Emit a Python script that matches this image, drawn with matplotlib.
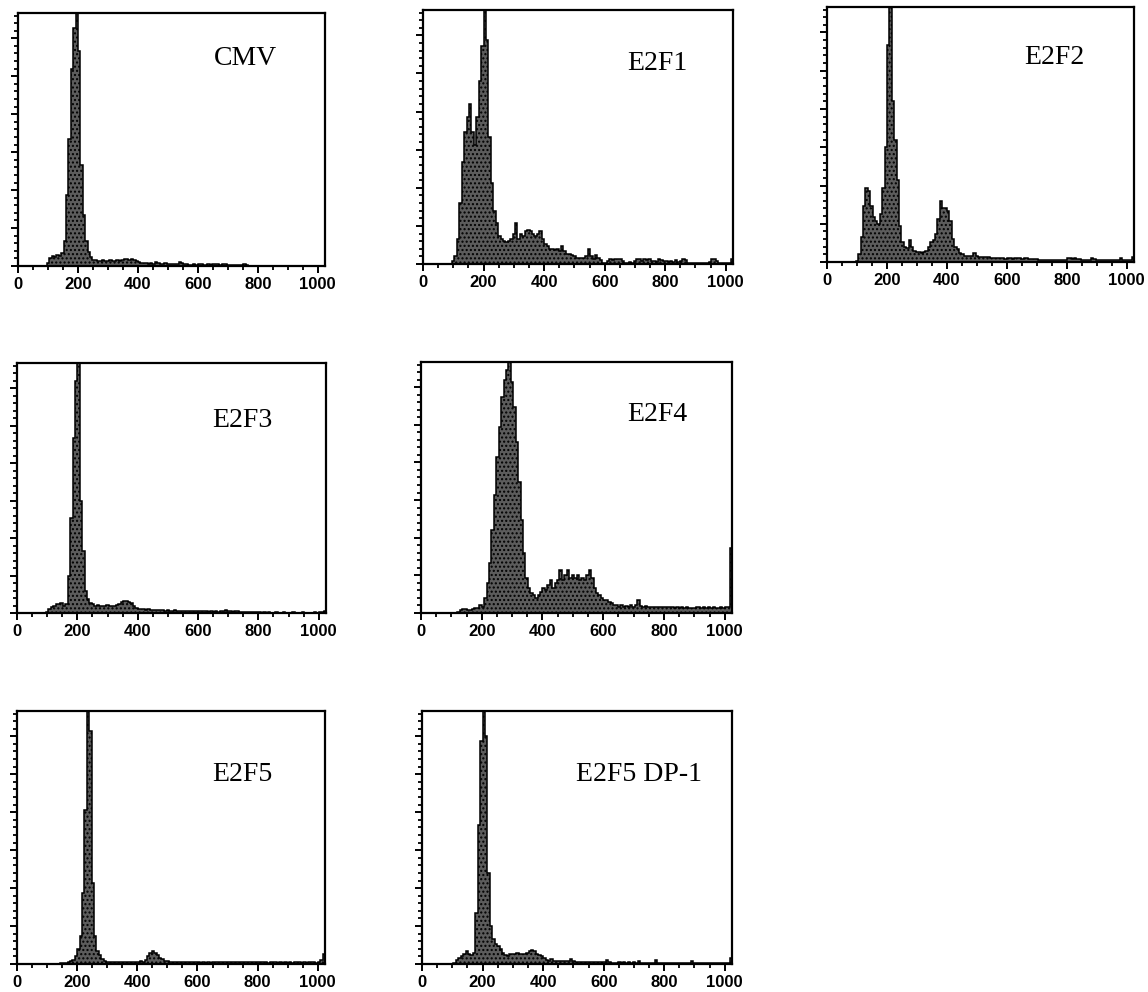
import matplotlib
matplotlib.use("Agg")
import matplotlib.pyplot as plt
import numpy as np

# DNA content histograms, 8-channel bins over 0..1024, heights in % of axis height
bin_edges = np.arange(0, 1025, 8)

cmv = [
    0, 0, 0, 0, 0, 0, 0, 0, 0, 0, 0, 0, 1, 3, 4, 3.5,
    4.5, 4, 5, 10, 28, 50, 78, 94, 115, 85, 40, 20, 10, 5.5, 3.5, 2.5,
    2.5, 2, 2, 2.2, 1.8, 2, 2.3, 2, 2.1, 2.4, 2, 2.2, 2.6, 2.8, 2.5, 2.7,
    2.4, 2, 1.4, 1.2, 1, 1.1, 0.9, 1, 0.8, 1.5, 1, 0.7, 0.9, 1, 0.6, 0.8,
    0.7, 0.9, 0.6, 1.4, 1, 0.7, 0.6, 0.5, 0.4, 0.6, 0.5, 0.7, 0.8, 0.5, 0.4, 0.6,
    0.5, 0.7, 0.6, 0.8, 0.5, 0.7, 0.6, 0.4, 0.5, 0.3, 0.4, 0.3, 0.2, 0.3, 0.6, 0.2,
    0, 0, 0, 0, 0, 0, 0, 0, 0, 0, 0, 0, 0, 0, 0, 0,
    0, 0, 0, 0, 0, 0, 0, 0, 0, 0, 0, 0, 0, 0, 0, 0,
]
e2f1 = [
    0, 0, 0, 0, 0, 0, 0, 0, 0, 0, 0, 0, 1, 3, 10, 24,
    40, 52, 58, 63, 52, 47, 58, 72, 86, 110, 88, 50, 32, 21, 16, 11,
    10, 9, 8.5, 9, 10, 12, 16, 10, 12, 11, 13, 13.5, 13, 12, 11, 12,
    13, 10, 8, 7, 6, 6, 5.5, 6, 5, 7, 5, 4, 4, 3.5, 3, 2.5,
    2.5, 2.5, 2.5, 3, 6, 3, 2, 3.5, 2.5, 1.5, 0.5, 0.5, 1, 2, 1.5, 2,
    2, 2, 1, 0.5, 0.5, 0.8, 0.5, 1, 2, 2, 1, 1.8, 1.5, 2, 1, 1,
    0.8, 2, 1.5, 1, 1, 0.8, 1, 0.7, 1.5, 0.8, 1, 2, 1.5, 0.5, 0.5, 0.5,
    0.5, 0.4, 0.5, 0.4, 0.3, 0.4, 0.8, 2, 1.8, 1, 0.3, 0.3, 0.3, 0.3, 0.5, 2,
]
e2f2 = [
    0, 0, 0, 0, 0, 0, 0, 0, 0, 0, 0, 0, 0.5, 3, 10, 22,
    29, 28, 22, 17.5, 16, 15, 19, 29, 45, 85, 115, 63, 48, 32, 14, 8,
    6, 5.5, 8.5, 6, 4.5, 4, 4, 3.5, 4, 4.5, 6, 8, 8.5, 11, 17, 24,
    21, 21, 20, 16, 9, 6, 5, 3.5, 3, 2.5, 2.5, 2.5, 2.5, 3.5, 2.5, 2,
    2, 2, 2, 1.8, 1.5, 1.5, 1.5, 1.6, 1.5, 1.5, 1.2, 1.6, 1.5, 1.3, 1.5, 1.4,
    1.5, 1.3, 1.4, 1.5, 1.2, 1.3, 1.2, 1, 0.9, 0.8, 0.8, 0.9, 0.7, 0.8, 0.8, 0.7,
    0.8, 0.7, 0.8, 0.9, 1.5, 1.4, 1.2, 1.5, 1.2, 1, 0.8, 0.7, 0.8, 0.7, 1.5, 1,
    0.7, 0.6, 0.7, 0.6, 0.6, 0.7, 0.6, 0.7, 0.8, 0.7, 1.5, 0.8, 0.6, 0.6, 0.7, 2,
]
e2f3 = [
    0, 0, 0, 0, 0, 0, 0, 0, 0, 0, 0, 0, 0.5, 1.5, 2.5, 3,
    3.5, 3.8, 4, 3, 3.5, 15, 38, 70, 93, 115, 45, 25, 9, 5.5, 4, 3.5,
    3, 3.2, 3, 2.8, 3, 3.1, 3, 2.9, 3, 3.2, 3.5, 4.5, 5, 4.8, 4.5, 4.2,
    3, 2.2, 1.8, 1.6, 1.5, 1.4, 1.5, 1.3, 1.4, 1.2, 1.3, 1.2, 1.1, 1, 1.2, 1,
    1, 1.1, 0.9, 1, 0.8, 1, 0.9, 0.8, 1, 0.9, 0.8, 0.7, 1, 0.8, 0.7, 0.6,
    0.7, 0.6, 0.8, 0.6, 0.7, 0.9, 1.2, 0.8, 0.7, 0.6, 0.7, 0.8, 0.6, 0.5, 0.6, 0.5,
    0.5, 0.6, 0.4, 0.3, 0.3, 0.2, 0.3, 0.2, 0.3, 0.2, 0.2, 0.3, 0.2, 0.2, 0.3, 0.2,
    0.2, 0.2, 0.3, 0.2, 0.2, 0.2, 0.3, 0.2, 0.2, 0.2, 0.2, 0.3, 0.2, 0.3, 0.5, 1,
]
e2f4 = [
    0, 0, 0, 0, 0, 0, 0, 0, 0, 0, 0, 0, 0, 0, 0, 0.3,
    1, 1.5, 1.5, 1.2, 1, 1.5, 1.8, 2, 3, 2.5, 6, 12, 20, 33, 47, 62,
    74, 86, 93, 97, 110, 92, 82, 68, 52, 37, 24, 14, 10, 8, 7, 6,
    7, 8.5, 10, 9, 11, 13, 10, 12, 13, 17, 13, 15, 17, 14, 15, 14,
    15, 13, 14, 13, 15, 17, 14, 10, 8, 7, 6, 5, 5, 4.5, 4, 3,
    3, 2.5, 3, 2.5, 2.8, 2.5, 3, 2.5, 3, 5, 2.8, 2.5, 2.8, 2.5, 2.3, 2.5,
    2.5, 2.2, 2.5, 2.3, 2.5, 2.2, 2.4, 2.2, 2, 2.3, 2.1, 2.2, 2, 2.2, 2, 2.1,
    2, 2.2, 2.5, 2, 2.3, 2, 2.2, 2, 2.4, 2.1, 2, 2.3, 2, 2.2, 2.5, 26,
]
e2f5 = [
    0, 0, 0, 0, 0, 0, 0, 0, 0, 0, 0, 0, 0, 0, 0, 0,
    0, 0, 0.3, 0.5, 0.5, 0.6, 1, 1.5, 3, 6, 11, 28, 61, 112, 92, 32,
    11, 5, 3.5, 2, 1, 0.8, 0.7, 0.8, 0.9, 0.7, 0.8, 0.6, 0.8, 0.7, 0.9, 0.7,
    0.8, 0.7, 0.9, 1, 0.8, 1.5, 3, 4.5, 5, 4.5, 3.5, 2.5, 1.8, 1.2, 1, 0.8,
    0.8, 0.7, 0.8, 0.7, 0.6, 0.7, 0.8, 0.6, 0.7, 0.6, 0.7, 0.6, 0.5, 0.6, 0.5, 0.6,
    0.5, 0.6, 0.7, 0.8, 0.7, 0.8, 0.9, 0.8, 0.7, 0.8, 0.7, 0.8, 0.7, 0.6, 0.7, 0.8,
    0.7, 0.8, 0.7, 0.6, 0.7, 0.6, 0.7, 0.6, 0.5, 0.6, 0.7, 0.6, 0.5, 0.6, 0.5, 0.6,
    0.5, 0.6, 0.5, 0.6, 0.7, 0.6, 0.5, 0.6, 0.5, 0.6, 0.7, 0.6, 0.5, 0.8, 1.5, 4,
]
e2f5_dp1 = [
    0, 0, 0, 0, 0, 0, 0, 0, 0, 0, 0, 0, 0, 0.5, 1.5, 2.5,
    3, 4, 5, 4, 3.5, 4.5, 20, 55, 88, 112, 90, 36, 15, 10, 8, 7,
    6, 4.5, 3.5, 3, 4, 4, 4, 4.2, 4, 4, 4, 4.5, 5, 5.5, 5, 4,
    3.5, 3, 2.5, 1.5, 1.3, 2, 1.2, 1.2, 1, 1.2, 1, 1.2, 1, 1.8, 1, 0.8,
    0.8, 0.9, 0.7, 0.8, 0.7, 0.8, 0.6, 0.7, 0.8, 0.6, 0.7, 0.6, 1.5, 0.6, 0.5, 0.4,
    0.5, 0.6, 0.5, 0.6, 0.5, 0.6, 0.5, 0.6, 0.5, 1, 0.5, 0.4, 0.5, 0.4, 0.3, 0.4,
    1.5, 0.4, 0.3, 0.4, 0.3, 0.3, 0.4, 0.3, 0.3, 0.3, 0.4, 0.3, 0.3, 0.3, 0.3, 1,
    0.3, 0.2, 0.3, 0.2, 0.3, 0.2, 0.3, 0.2, 0.3, 0.2, 0.3, 0.2, 0.3, 0.2, 0.5, 2.5,
]

names = ["CMV", "E2F1", "E2F2", "E2F3", "E2F4", "E2F5", "E2F5 DP-1"]
series = [cmv, e2f1, e2f2, e2f3, e2f4, e2f5, e2f5_dp1]
xticks = [0, 200, 400, 600, 800, 1000]

W, H = 1148, 992
# axes frames in pixels: left, right, top, bottom
frames = [
    (18, 325, 13, 266), (423, 733, 10, 264), (827, 1134, 7, 262),
    (17, 326, 363, 613), (421, 732, 362, 613),
    (17, 325, 711, 964), (422, 732, 711, 964),
]
label_pos = [(0.74, 0.82), (0.755, 0.79), (0.74, 0.80), (0.73, 0.77),
             (0.76, 0.79), (0.73, 0.75), (0.70, 0.75)]

fig = plt.figure(figsize=(W / 100, H / 100), dpi=100)

for name, vals, (l, r, t, b), (tx, ty) in zip(names, series, frames, label_pos):
    ax = fig.add_axes([l / W, 1 - b / H, (r - l) / W, (b - t) / H])
    ax.stairs(vals, bin_edges, fill=True, facecolor='#5c5c5c', edgecolor='black',
              hatch='....', linewidth=1.1)
    ax.set_xlim(0, 1024)
    ax.set_ylim(0, 100)
    ax.set_xticks(xticks)
    ax.set_xticks(np.arange(0, 1025, 50), minor=True)
    ax.set_yticks(np.arange(0, 101, 15))
    ax.set_yticks(np.arange(0, 101, 3), minor=True)
    ax.set_yticklabels([])
    ax.tick_params(which='major', direction='out', length=5, width=1.4, pad=3)
    ax.tick_params(which='minor', direction='out', length=3, width=1.3)
    for lab in ax.get_xticklabels():
        lab.set_fontfamily('Liberation Sans')
        lab.set_fontweight('bold')
        lab.set_fontsize(12)
    for sp in ax.spines.values():
        sp.set_linewidth(1.6)
    ax.text(tx, ty, name, transform=ax.transAxes, ha='center', va='center',
            fontfamily='Liberation Serif', fontsize=20)

fig.savefig("out.png", dpi=100)
